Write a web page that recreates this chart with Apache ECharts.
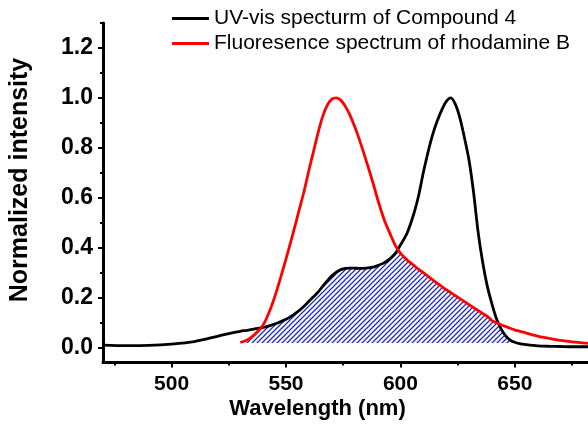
<!DOCTYPE html>
<html><head><meta charset="utf-8">
<script src="https://cdn.jsdelivr.net/npm/echarts@6/dist/echarts.min.js"></script>
<style>html,body{margin:0;padding:0;background:#fff}#c{width:588px;height:425px}</style>
</head><body><div id="c"></div>
<script>
// Shared wavelength grid (nm)
const wavelength = [470,480,490,500,510,520,525,530,533,536,540,543,546,550,553,556,558,560,562,564,566,568,570,572,574,576,578,580,582,585,588,590,593,596,598,600,603,606,608,610,612,614,616,618,620,622,624,626,628,630,632,634,636,638,640,642,644,646,648,650,652,655,660,665,670,675,683];
// UV-vis spectrum of Compound 4 (black)
const uvVis = [0.010,0.008,0.009,0.014,0.024,0.045,0.056,0.065,0.069,0.074,0.081,0.088,0.097,0.113,0.130,0.150,0.166,0.185,0.203,0.222,0.245,0.267,0.287,0.302,0.312,0.317,0.318,0.318,0.317,0.318,0.322,0.328,0.340,0.360,0.380,0.410,0.460,0.540,0.610,0.700,0.780,0.850,0.905,0.950,0.985,1.000,0.975,0.920,0.840,0.750,0.620,0.460,0.340,0.245,0.175,0.115,0.075,0.047,0.030,0.021,0.016,0.012,0.007,0.005,0.004,0.003,0.003];
// Fluorescence spectrum of rhodamine B (red)
const fluorescence = [null,null,null,null,null,null,null,0.020,0.030,0.050,0.090,0.150,0.230,0.355,0.455,0.560,0.630,0.710,0.785,0.860,0.925,0.970,0.995,1.000,0.990,0.965,0.930,0.885,0.835,0.750,0.660,0.595,0.510,0.445,0.405,0.378,0.350,0.328,0.313,0.300,0.286,0.272,0.258,0.245,0.232,0.220,0.208,0.196,0.184,0.172,0.160,0.148,0.136,0.125,0.108,0.099,0.091,0.084,0.077,0.070,0.066,0.058,0.046,0.037,0.029,0.023,0.016];
const seriesNames = ['UV-vis specturm of Compound 4', 'Fluoresence spectrum of rhodamine B'];
const overlapEnd = 652;
const overlapBase = 0.018;
const xMajorTicks = [500, 550, 600, 650];
const xMinorTicks = [475, 525, 575, 625, 675];
const yMajorTicks = [0, 0.2, 0.4, 0.6, 0.8, 1.0, 1.2];
const yMinorTicks = [0.1, 0.3, 0.5, 0.7, 0.9, 1.1, 1.3];
const xTitle = 'Wavelength (nm)';
const yTitle = 'Normalized intensity';

const FONT = '"Liberation Sans", Arial, Helvetica, sans-serif';
const SMOOTH = 0.25;

const uvData = wavelength.map((w, i) => [w, uvVis[i]]);
const flData = wavelength.map((w, i) => [w, fluorescence[i]]).filter(p => p[1] !== null);
const overlapData = wavelength.map((w, i) => (fluorescence[i] !== null && w <= overlapEnd) ? [w, Math.min(uvVis[i], fluorescence[i])] : null).filter(Boolean);

// hatch pattern
const hatch = document.createElement('canvas');
hatch.width = 5; hatch.height = 5;
const hc = hatch.getContext('2d');
hc.fillStyle = '#ffffff'; hc.fillRect(0, 0, 5, 5);
hc.strokeStyle = '#1f2cc0'; hc.lineWidth = 1.3;
hc.beginPath();
hc.moveTo(-1, 6); hc.lineTo(6, -1);
hc.moveTo(-1, 1); hc.lineTo(1, -1);
hc.moveTo(4, 6); hc.lineTo(6, 4);
hc.stroke();

const chart = echarts.init(document.getElementById('c'), null, {renderer: 'canvas'});
const axisCommon = {splitLine: {show: false}};
chart.setOption({
  animation: false,
  backgroundColor: '#fff',
  grid: {left: 103, right: 0, top: 23, bottom: 62.5, containLabel: false},
  legend: {
    data: seriesNames, orient: 'vertical', left: 172, top: 8, padding: 0,
    itemWidth: 37, itemHeight: 3, itemGap: 4, icon: 'rect',
    textStyle: {fontSize: 21, color: '#000', fontFamily: FONT}
  },
  xAxis: [
    Object.assign({type: 'value', min: 470, max: 682, position: 'bottom',
      axisLine: {onZero: false, lineStyle: {color: '#000', width: 3}},
      axisTick: {customValues: xMajorTicks, length: 5, lineStyle: {color: '#000', width: 2}},
      axisLabel: {customValues: xMajorTicks, margin: 11, color: '#000', fontSize: 21, fontWeight: 'bold', fontFamily: FONT}
    }, axisCommon),
    Object.assign({type: 'value', min: 470, max: 682, position: 'bottom',
      axisLine: {show: false, onZero: false},
      axisTick: {customValues: xMinorTicks, length: 3, lineStyle: {color: '#000', width: 2}},
      axisLabel: {show: false}
    }, axisCommon)
  ],
  yAxis: [
    Object.assign({type: 'value', min: -0.06, max: 1.3, position: 'left',
      axisLine: {show: true, onZero: false, lineStyle: {color: '#000', width: 3}},
      axisTick: {show: true, customValues: yMajorTicks, length: 5, lineStyle: {color: '#000', width: 2}},
      axisLabel: {customValues: yMajorTicks, margin: 10, color: '#000', fontSize: 23, fontWeight: 'bold', fontFamily: FONT,
        formatter: v => Number(v).toFixed(1)}
    }, axisCommon),
    Object.assign({type: 'value', min: -0.06, max: 1.3, position: 'left',
      axisLine: {show: false, onZero: false},
      axisTick: {show: true, customValues: yMinorTicks, length: 3, lineStyle: {color: '#000', width: 2}},
      axisLabel: {show: false}
    }, axisCommon)
  ],
  graphic: [
    {type: 'text', x: 317.5, y: 409, style: {text: xTitle, font: 'bold 22px ' + FONT, fill: '#000', align: 'center', verticalAlign: 'middle'}},
    {type: 'text', x: 20, y: 180, rotation: Math.PI / 2, style: {text: yTitle, font: 'bold 25px ' + FONT, fill: '#000', align: 'center', verticalAlign: 'middle'}}
  ],
  series: [
    {name: 'overlap', type: 'line', data: overlapData, symbol: 'none', silent: true, z: 1, smooth: SMOOTH,
      lineStyle: {width: 0}, areaStyle: {origin: overlapBase, opacity: 1, color: {image: hatch, repeat: 'repeat'}}},
    {name: seriesNames[0], type: 'line', data: uvData, symbol: 'none', z: 3, smooth: SMOOTH,
      lineStyle: {color: '#000', width: 2.8}, itemStyle: {color: '#000'}},
    {name: seriesNames[1], type: 'line', data: flData, symbol: 'none', z: 4, smooth: SMOOTH,
      lineStyle: {color: '#f00', width: 2.8}, itemStyle: {color: '#f00'}}
  ]
});
</script></body></html>
